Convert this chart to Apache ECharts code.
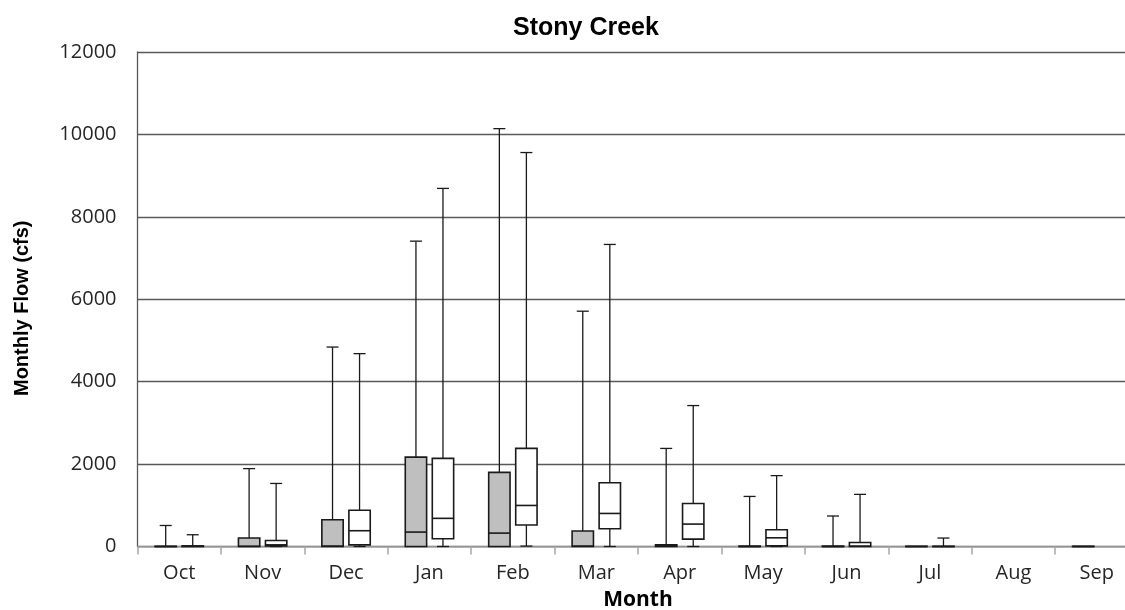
<!DOCTYPE html>
<html>
<head>
<meta charset="utf-8">
<script src="https://cdn.jsdelivr.net/npm/echarts@6/dist/echarts.min.js"></script>
<style>
html,body{margin:0;padding:0;background:#fff;}
#chart{width:1125px;height:610px;}
</style>
</head>
<body>
<div id="chart"></div>
<script>
// Categories
const months = ['Oct','Nov','Dec','Jan','Feb','Mar','Apr','May','Jun','Jul','Aug','Sep'];
const yTicks = [0, 2000, 4000, 6000, 8000, 10000, 12000];

// Box statistics: [monthIndex, min, q1, median, q3, max]
const graySeries = [
  [0, 0, 0, 0, 5, 510],
  [1, 0, 0, 5, 205, 1890],
  [2, 0, 0, 10, 650, 4840],
  [3, 0, 0, 350, 2170, 7410],
  [4, 0, 0, 325, 1800, 10140],
  [5, 0, 0, 10, 375, 5710],
  [6, 0, 0, 10, 40, 2380],
  [7, 0, 0, 0, 10, 1215],
  [8, 0, 0, 0, 10, 740],
  [9, 0, 0, 0, 5, 5],
  [11, 0, 0, 0, 5, 5]
];
const whiteSeries = [
  [0, 0, 0, 5, 15, 285],
  [1, 0, 15, 40, 146, 1530],
  [2, 0, 40, 383, 878, 4680],
  [3, 0, 187, 683, 2139, 8690],
  [4, 10, 520, 996, 2381, 9560],
  [5, 0, 430, 802, 1547, 7330],
  [6, 0, 180, 544, 1045, 3420],
  [7, 0, 15, 211, 405, 1720],
  [8, 0, 0, 10, 97, 1265],
  [9, 0, 0, 0, 5, 205]
];

function makeRender(offsetFrac, fill) {
  return function (params, api) {
    const idx = api.value(0);
    const band = api.size([1, 0])[0];
    const cx = api.coord([idx, 0])[0] + offsetFrac * band;
    const yMin = api.coord([idx, api.value(1)])[1];
    const yQ1 = api.coord([idx, api.value(2)])[1];
    const yMed = api.coord([idx, api.value(3)])[1];
    const yQ3 = api.coord([idx, api.value(4)])[1];
    const yMax = api.coord([idx, api.value(5)])[1];
    const hw = band * 0.128;
    const cw = band * 0.072;
    const lineStyle = { stroke: '#1a1a1a', lineWidth: 1.3 };
    const children = [];
    if (yMax < yQ3 - 0.5) {
      children.push({ type: 'line', shape: { x1: cx, y1: yMax, x2: cx, y2: yQ3 }, style: lineStyle });
      children.push({ type: 'line', shape: { x1: cx - cw, y1: yMax, x2: cx + cw, y2: yMax }, style: lineStyle });
    }
    if (yMin > yQ1 + 0.5) {
      children.push({ type: 'line', shape: { x1: cx, y1: yQ1, x2: cx, y2: yMin }, style: lineStyle });
      children.push({ type: 'line', shape: { x1: cx - cw, y1: yMin, x2: cx + cw, y2: yMin }, style: lineStyle });
    }
    children.push({
      type: 'rect',
      shape: { x: cx - hw, y: yQ3, width: hw * 2, height: Math.max(yQ1 - yQ3, 0.01) },
      style: { fill: fill, stroke: '#1a1a1a', lineWidth: 1.6 }
    });
    children.push({ type: 'line', shape: { x1: cx - hw, y1: yMed, x2: cx + hw, y2: yMed }, style: { stroke: '#1a1a1a', lineWidth: 1.6 } });
    return { type: 'group', children: children };
  };
}

const chart = echarts.init(document.getElementById('chart'), null, { renderer: 'canvas' });
chart.setOption({
  animation: false,
  backgroundColor: '#ffffff',
  title: {
    text: 'Stony Creek',
    left: 508,
    top: 11,
    textStyle: { fontFamily: 'Liberation Sans', fontWeight: 'bold', fontSize: 25, color: '#000' }
  },
  grid: { left: 137.5, top: 52, width: 1001, bottom: 63.5, containLabel: false, outerBoundsMode: 'none' },
  xAxis: {
    type: 'category',
    data: months,
    name: 'Month',
    nameLocation: 'middle',
    nameGap: 43,
    nameTextStyle: { fontFamily: 'Open Sans', fontWeight: 'bold', fontSize: 21, color: '#000' },
    axisLine: { lineStyle: { color: '#a6a6a6', width: 1.5 } },
    axisTick: { show: true, length: 8, lineStyle: { color: '#a6a6a6', width: 1.5 } },
    axisLabel: { fontFamily: 'Open Sans', fontSize: 20, color: '#262626', margin: 17 },
    splitLine: { show: false }
  },
  yAxis: {
    type: 'value',
    min: 0,
    max: 12000,
    interval: 2000,
    name: 'Monthly Flow (cfs)',
    nameLocation: 'middle',
    nameGap: 105,
    nameTextStyle: { fontFamily: 'Liberation Sans', fontWeight: 'bold', fontSize: 20, color: '#000', padding: [0, 18, 0, 0] },
    axisLine: { show: true, lineStyle: { color: '#595959', width: 1.3 } },
    axisTick: { show: false },
    axisLabel: {
      fontFamily: 'Open Sans', fontSize: 20, color: '#262626', margin: 21,
      formatter: function (v) { return yTicks.indexOf(v) >= 0 ? String(v) : ''; }
    },
    splitLine: { show: true, lineStyle: { color: '#595959', width: 1.3 } }
  },
  series: [
    {
      type: 'custom',
      name: 'Gray',
      renderItem: makeRender(-0.162, '#bfbfbf'),
      encode: { x: 0, y: [1, 2, 3, 4, 5] },
      data: graySeries,
      z: 3
    },
    {
      type: 'custom',
      name: 'White',
      renderItem: makeRender(0.162, '#ffffff'),
      encode: { x: 0, y: [1, 2, 3, 4, 5] },
      data: whiteSeries,
      z: 3
    }
  ]
});
</script>
</body>
</html>
